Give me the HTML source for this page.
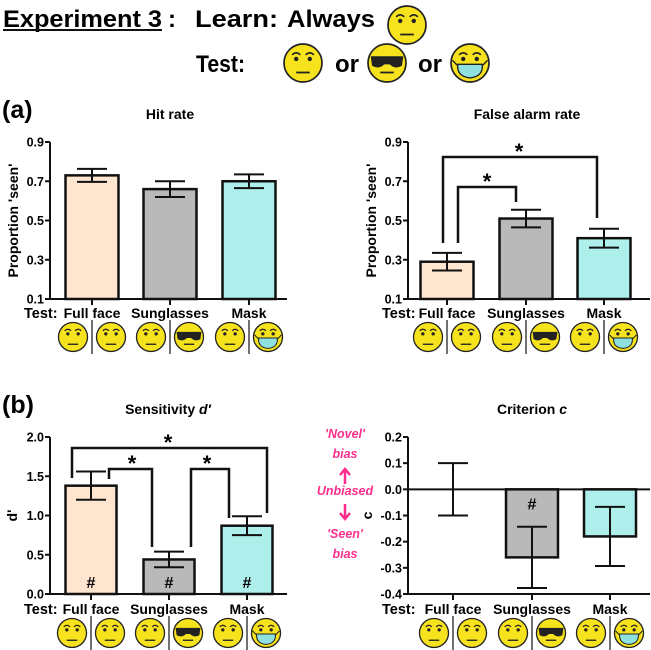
<!DOCTYPE html>
<html><head><meta charset="utf-8"><style>
body{margin:0;background:#fff}
svg{display:block;font-family:"Liberation Sans",Arial,sans-serif}
text{font-weight:bold}
</style></head><body>
<svg id="fig" width="651" height="650" viewBox="0 0 651 650" xmlns="http://www.w3.org/2000/svg">
<text x="3" y="27" font-size="24" textLength="159" lengthAdjust="spacingAndGlyphs">Experiment 3</text>
<line x1="3" y1="30" x2="162" y2="30" stroke="#111" stroke-width="2"/>
<text x="168" y="27" font-size="24">:</text>
<text x="195" y="27" font-size="24" textLength="83" lengthAdjust="spacingAndGlyphs">Learn:</text>
<text x="287" y="27" font-size="24" textLength="88" lengthAdjust="spacingAndGlyphs">Always</text>
<text x="196" y="72" font-size="24" textLength="49" lengthAdjust="spacingAndGlyphs">Test:</text>
<text x="335" y="72" font-size="24">or</text>
<text x="418" y="72" font-size="24">or</text>
<text x="2" y="118" font-size="25">(a)</text>
<text x="2" y="413" font-size="25">(b)</text>
<g id="g"></g>
</svg>
<script>
const categories = ["Full face","Sunglasses","Mask"];
const hitValues = [0.73, 0.66, 0.70];
const hitErr = [0.033, 0.04, 0.035];
const faValues = [0.29, 0.51, 0.41];
const faErr = [0.045, 0.045, 0.048];
const dValues = [1.38, 0.44, 0.87];
const dErr = [0.18, 0.10, 0.12];
const cValues = [0.0, -0.26, -0.18];
const cErr = [0.10, 0.117, 0.113];
const propTicks = ["0.1","0.3","0.5","0.7","0.9"];
const dTicks = ["0.0","0.5","1.0","1.5","2.0"];
const cTicks = ["0.2","0.1","0.0","-0.1","-0.2","-0.3","-0.4"];
const fills = ["#fde5cf","#b9b9b9","#aeefec"];

const NS="http://www.w3.org/2000/svg";
const G=document.getElementById('g');
function el(tag,attrs,parent){const e=document.createElementNS(NS,tag);for(const k in attrs)e.setAttribute(k,attrs[k]);(parent||G).appendChild(e);return e;}
function txt(x,y,s,size,anchor,extra){const t=el('text',Object.assign({x:x,y:y,'font-size':size,'text-anchor':anchor||'start'},extra||{}));t.textContent=s;return t;}

function face(cx,cy,r,type,name){
  const g=el('g',{});
  
  
  el('circle',{cx:cx,cy:cy,r:r,fill:'#f7e21e',stroke:'#222','stroke-width':Math.max(1,r*0.09)},g);
  const s=r/14;
  if(type==='glasses'){
    el('path',{d:`M${cx-12*s} ${cy-5*s} L${cx+12*s} ${cy-5*s} L${cx+11*s} ${cy+2*s} Q${cx+6*s} ${cy+5*s} ${cx+2*s} ${cy+1*s} L${cx-2*s} ${cy+1*s} Q${cx-6*s} ${cy+5*s} ${cx-11*s} ${cy+2*s} Z`,fill:'#222'},g);
    el('line',{x1:cx-5*s,y1:cy+7*s,x2:cx+5*s,y2:cy+7*s,stroke:'#222','stroke-width':1.3*s},g);
  } else {
    el('path',{d:`M${cx-8*s} ${cy-6*s} Q${cx-5*s} ${cy-9*s} ${cx-2*s} ${cy-6*s} M${cx+2*s} ${cy-6*s} Q${cx+5*s} ${cy-9*s} ${cx+8*s} ${cy-6*s}`,fill:'none',stroke:'#222','stroke-width':1.2*s},g);
    el('circle',{cx:cx-5*s,cy:cy-3*s,r:1.6*s,fill:'#222'},g);
    el('circle',{cx:cx+5*s,cy:cy-3*s,r:1.6*s,fill:'#222'},g);
    if(type==='mask'){
      el('path',{d:`M${cx-9*s} ${cy+1*s} L${cx+9*s} ${cy+1*s} Q${cx+10*s} ${cy+10*s} ${cx} ${cy+11*s} Q${cx-10*s} ${cy+10*s} ${cx-9*s} ${cy+1*s} Z`,fill:'#8fe0e0',stroke:'#222','stroke-width':1*s},g);
      el('path',{d:`M${cx-9*s} ${cy+2*s} L${cx-13*s} ${cy-2*s} M${cx+9*s} ${cy+2*s} L${cx+13*s} ${cy-2*s}`,stroke:'#222','stroke-width':1*s},g);
    } else {
      el('line',{x1:cx-5*s,y1:cy+7*s,x2:cx+5*s,y2:cy+7*s,stroke:'#222','stroke-width':1.3*s},g);
    }
  }
}

face(407,25,19,'plain','learn-face');
face(303,63,19,'plain','test-face-full');
face(387,63,19,'glasses','test-face-sunglasses');
face(470,63,19,'mask','test-face-mask');

function panel(o){
  const {ax,ax2,yTop,yBot,vMin,vMax,centers,bw,vals,errs,ticks,tickVals,title,titleX,ytitle,ytitleX,zeroLine,hashes,showBars,labY,faceY,prefix}=o;
  const y=v=>yBot-(v-vMin)/(vMax-vMin)*(yBot-yTop);
  txt(titleX,yTop-23,'',14,'middle',{}).innerHTML=title;
  el('line',{x1:ax,y1:yTop,x2:ax,y2:yBot,stroke:'#111','stroke-width':2,});
  ticks.forEach((t,i)=>{const yy=y(tickVals[i]);
    el('line',{x1:ax-5,y1:yy,x2:ax,y2:yy,stroke:'#111','stroke-width':2});
    const tt=txt(ax-6,yy+4.5,t,12.5,'end');
    
    
  });
  const yt=txt(0,0,ytitle,14,'middle',{transform:`translate(${ytitleX},${(yTop+yBot)/2}) rotate(-90)`});
  
  
  const baseV = zeroLine!==undefined?zeroLine:vMin;
  vals.forEach((v,i)=>{
    const cx=centers[i];
    if(showBars[i]){
      const y0=y(baseV), y1=y(v);
      const r=el('rect',{x:cx-bw/2,y:Math.min(y0,y1),width:bw,height:Math.abs(y0-y1),fill:fills[i],stroke:'#111','stroke-width':2.5});
      
      
    }
    const e=el('path',{d:`M${cx} ${y(v+errs[i])} L${cx} ${y(v-errs[i])} M${cx-15} ${y(v+errs[i])} L${cx+15} ${y(v+errs[i])} M${cx-15} ${y(v-errs[i])} L${cx+15} ${y(v-errs[i])}`,stroke:'#111','stroke-width':2,fill:'none'});
    
    
    if(hashes && hashes[i]){
      const hy = hashes[i]==='bottom'? yBot-6 : y(0)+20;
      const h=txt(cx,hy,'#',16,'middle');
      
      
    }
    el('line',{x1:cx,y1:yBot,x2:cx,y2:yBot+6,stroke:'#111','stroke-width':2});
    const lb=txt(cx,labY,categories[i],14,'middle');
    
    
    face(cx-19,faceY,14.5,'plain',prefix+'-face-learn-'+i);
    face(cx+19,faceY,14.5,i===1?'glasses':(i===2?'mask':'plain'),prefix+'-face-test-'+i);
    el('line',{x1:cx,y1:faceY-17,x2:cx,y2:faceY+17,stroke:'#111','stroke-width':1.2});
  });
  const xa = el('line',{x1:ax-1,y1:zeroLine!==undefined?y(zeroLine):yBot,x2:ax2,y2:zeroLine!==undefined?y(zeroLine):yBot,stroke:'#111','stroke-width':2});
  
  
  if(zeroLine!==undefined){el('line',{x1:ax-1,y1:yBot,x2:ax2,y2:yBot,stroke:'#111','stroke-width':2});}
  const tl=txt(ax-26,labY,'Test:',14.5,'start');
  
  
  return y;
}

panel({prefix:'hit',ax:50,ax2:287,yTop:142,yBot:299,vMin:0.1,vMax:0.9,centers:[92,170,249],bw:53,vals:hitValues,errs:hitErr,
  ticks:propTicks,tickVals:[0.1,0.3,0.5,0.7,0.9],title:'Hit rate',titleX:170,ytitle:"Proportion 'seen'",ytitleX:18,showBars:[1,1,1],labY:318,faceY:337});
panel({prefix:'fa',ax:408,ax2:650,yTop:142,yBot:299,vMin:0.1,vMax:0.9,centers:[447,526,604],bw:53,vals:faValues,errs:faErr,
  ticks:propTicks,tickVals:[0.1,0.3,0.5,0.7,0.9],title:'False alarm rate',titleX:527,ytitle:"Proportion 'seen'",ytitleX:376,showBars:[1,1,1],labY:318,faceY:337});
panel({prefix:'dprime',ax:50,ax2:287,yTop:437,yBot:594,vMin:0,vMax:2,centers:[91,169,247],bw:51,vals:dValues,errs:dErr,
  ticks:dTicks,tickVals:[0,0.5,1,1.5,2],title:'Sensitivity <tspan font-style="italic">d′</tspan>',titleX:168,ytitle:"d'",ytitleX:17,showBars:[1,1,1],hashes:['bottom','bottom','bottom'],labY:614,faceY:633});
panel({prefix:'criterion',ax:408,ax2:650,yTop:437,yBot:594,vMin:-0.4,vMax:0.2,centers:[453,532,610],bw:52,vals:cValues,errs:cErr,
  ticks:cTicks,tickVals:[0.2,0.1,0,-0.1,-0.2,-0.3,-0.4],title:'Criterion <tspan font-style="italic">c</tspan>',titleX:532,ytitle:"c",ytitleX:372,zeroLine:0,showBars:[0,1,1],hashes:[0,'top',0],labY:614,faceY:633});

function bracket(x1,x2,yb,yl,yr,sx,sy,name){
  const p=el('path',{d:`M${x1} ${yl} L${x1} ${yb} L${x2} ${yb} L${x2} ${yr}`,fill:'none',stroke:'#111','stroke-width':2.5});
  
  
  const s=txt(sx,sy,'*',22,'middle');
  
  
}
bracket(443,597,157,243,218,519,159,'fa-bracket-full-mask');
bracket(458,516,187,243,202,487,189,'fa-bracket-full-sunglasses');
bracket(72,267,448,478,513,168,450,'d-bracket-full-mask');
bracket(109,152,469,479,547,132,471,'d-bracket-full-sunglasses');
bracket(191,229,469,547,518,207,471,'d-bracket-sunglasses-mask');

const pink='#ff2e8c';
[["'Novel'",438],["bias",458],["Unbiased",495],["'Seen'",538],["bias",558]].forEach((a,i)=>{
  const t=txt(345,a[1],a[0],12.5,'middle',{fill:pink,'font-style':'italic'});
  
  
});
const ar1=el('path',{d:'M345 484 L345 470 M340 475 L345 469 L350 475',stroke:pink,'stroke-width':2.5,fill:'none'});


const ar2=el('path',{d:'M345 504 L345 518 M340 513 L345 519 L350 513',stroke:pink,'stroke-width':2.5,fill:'none'});


</script>
</body></html>
